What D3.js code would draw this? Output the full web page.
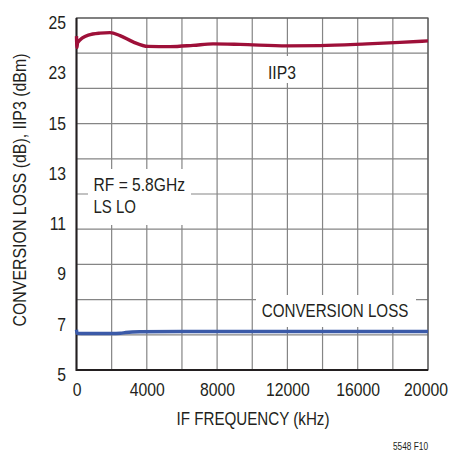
<!DOCTYPE html>
<html><head><meta charset="utf-8">
<script src="https://cdn.jsdelivr.net/npm/d3@7"></script>
<style>
html,body{margin:0;padding:0;background:#fff;}
text{font-family:"Liberation Sans",Arial,sans-serif;fill:#231f20;}
</style></head>
<body><svg id="c" width="451" height="451"></svg>
<script>
// Data
const iip3Freq = [0, 25, 60, 671, 1337, 1906, 2475, 3215, 4068, 5320, 6629, 7767, 9303, 11977, 13855, 16529, 18407, 20000];
const iip3Val  = [24.28, 23.83, 24.02, 24.32, 24.40, 24.42, 24.30, 24.05, 23.87, 23.86, 23.91, 23.97, 23.95, 23.89, 23.90, 23.97, 24.03, 24.09];
const clFreq = [0, 30, 500, 2000, 2500, 2800, 3600, 6000, 12000, 20000];
const clVal  = [6.60, 6.46, 6.45, 6.45, 6.46, 6.49, 6.52, 6.53, 6.53, 6.53];
const yTicks = [5, 7, 9, 11, 13, 15, 23, 25];
const xTicks = [0, 4000, 8000, 12000, 16000, 20000];

const L = 76.5, R = 428, T = 18, B = 370;
const svg = d3.select("#c");
const x = d3.scaleLinear().domain([0, 20000]).range([L, R]);
const y = d3.scaleLinear().domain(yTicks).range(yTicks.map((d, i) => B - i * (B - T) / (yTicks.length - 1)));

function fit(sel, w) {
  sel.attr("textLength", w).attr("lengthAdjust", "spacingAndGlyphs");
  return sel;
}

// grid
const g = svg.append("g");
d3.range(0, 20001, 2000).forEach(v => {
  g.append("line").attr("x1", x(v)).attr("x2", x(v)).attr("y1", T).attr("y2", B)
    .attr("stroke", "#858585").attr("stroke-width", 1.2);
});
d3.range(0, 11).forEach(i => {
  const yy = T + i * (B - T) / 10;
  g.append("line").attr("x1", L).attr("x2", R).attr("y1", yy).attr("y2", yy)
    .attr("stroke", "#858585").attr("stroke-width", 1.2);
});
// frame
svg.append("rect").attr("x", L).attr("y", T).attr("width", R - L).attr("height", B - T)
  .attr("fill", "none").attr("stroke", "#555").attr("stroke-width", 1.2);
svg.append("path").attr("d", `M${L},${T}V${B}H${R}`).attr("fill", "none")
  .attr("stroke", "#231f20").attr("stroke-width", 2);

// label boxes (white backgrounds)
svg.append("rect").attr("x", 265).attr("y", 56).attr("width", 36).attr("height", 27).attr("fill", "#fff");
svg.append("rect").attr("x", 88).attr("y", 169).attr("width", 103).attr("height", 56).attr("fill", "#fff");
svg.append("rect").attr("x", 256).attr("y", 295).attr("width", 160).attr("height", 32).attr("fill", "#fff");

// lines
const line = d3.line().curve(d3.curveMonotoneX);
svg.append("path").attr("d", line(iip3Freq.map((f, i) => [x(f), y(iip3Val[i])])))
  .attr("fill", "none").attr("stroke", "#9e1039").attr("stroke-width", 3.4).attr("stroke-linejoin", "round");
svg.append("path").attr("d", line(clFreq.map((f, i) => [x(f), y(clVal[i])])))
  .attr("fill", "none").attr("stroke", "#3b5aa8").attr("stroke-width", 3.4).attr("stroke-linejoin", "round");

// axes
const FF = '"Liberation Sans",Arial,sans-serif';
const ax = svg.append("g").attr("transform", `translate(0,${B})`)
  .call(d3.axisBottom(x).tickValues(xTicks).tickSize(0).tickPadding(0).tickFormat(d3.format("d")));
ax.select(".domain").remove();
ax.selectAll("text").attr("font-size", 19).attr("dy", 26.5).attr("fill", "#231f20").style("font-family", FF)
  .attr("transform", "scale(0.83,1)");
ax.selectAll(".tick").filter(d => d === 20000).select("text").attr("x", -3);

const ay = svg.append("g").attr("transform", `translate(${L},0)`)
  .call(d3.axisLeft(y).tickValues(yTicks).tickSize(0).tickPadding(0).tickFormat(d3.format("d")));
ay.select(".domain").remove();
ay.selectAll("text").attr("font-size", 19).attr("dy", 10.5).attr("x", -12.6).attr("fill", "#231f20").style("font-family", FF)
  .attr("transform", "scale(0.83,1)");

// text annotations
fit(svg.append("text").attr("x", 282).attr("y", 79).attr("text-anchor", "middle").attr("font-size", 19).text("IIP3"), 28);
fit(svg.append("text").attr("x", 93.5).attr("y", 190.7).attr("font-size", 19).text("RF = 5.8GHz"), 91.5);
fit(svg.append("text").attr("x", 93.5).attr("y", 213.3).attr("font-size", 19).text("LS LO"), 42.5);
fit(svg.append("text").attr("x", 261.7).attr("y", 317.3).attr("font-size", 19).text("CONVERSION LOSS"), 146.7);

// titles
fit(svg.append("text").attr("x", 253).attr("y", 425).attr("text-anchor", "middle").attr("font-size", 19).text("IF FREQUENCY (kHz)"), 153);
fit(svg.append("text").attr("transform", "translate(25.5,190) rotate(-90)").attr("text-anchor", "middle").attr("font-size", 18)
  .text("CONVERSION LOSS (dB), IIP3 (dBm)"), 273);
fit(svg.append("text").attr("x", 428).attr("y", 450).attr("text-anchor", "end").attr("font-size", 10).text("5548 F10"), 35);
</script></body></html>
